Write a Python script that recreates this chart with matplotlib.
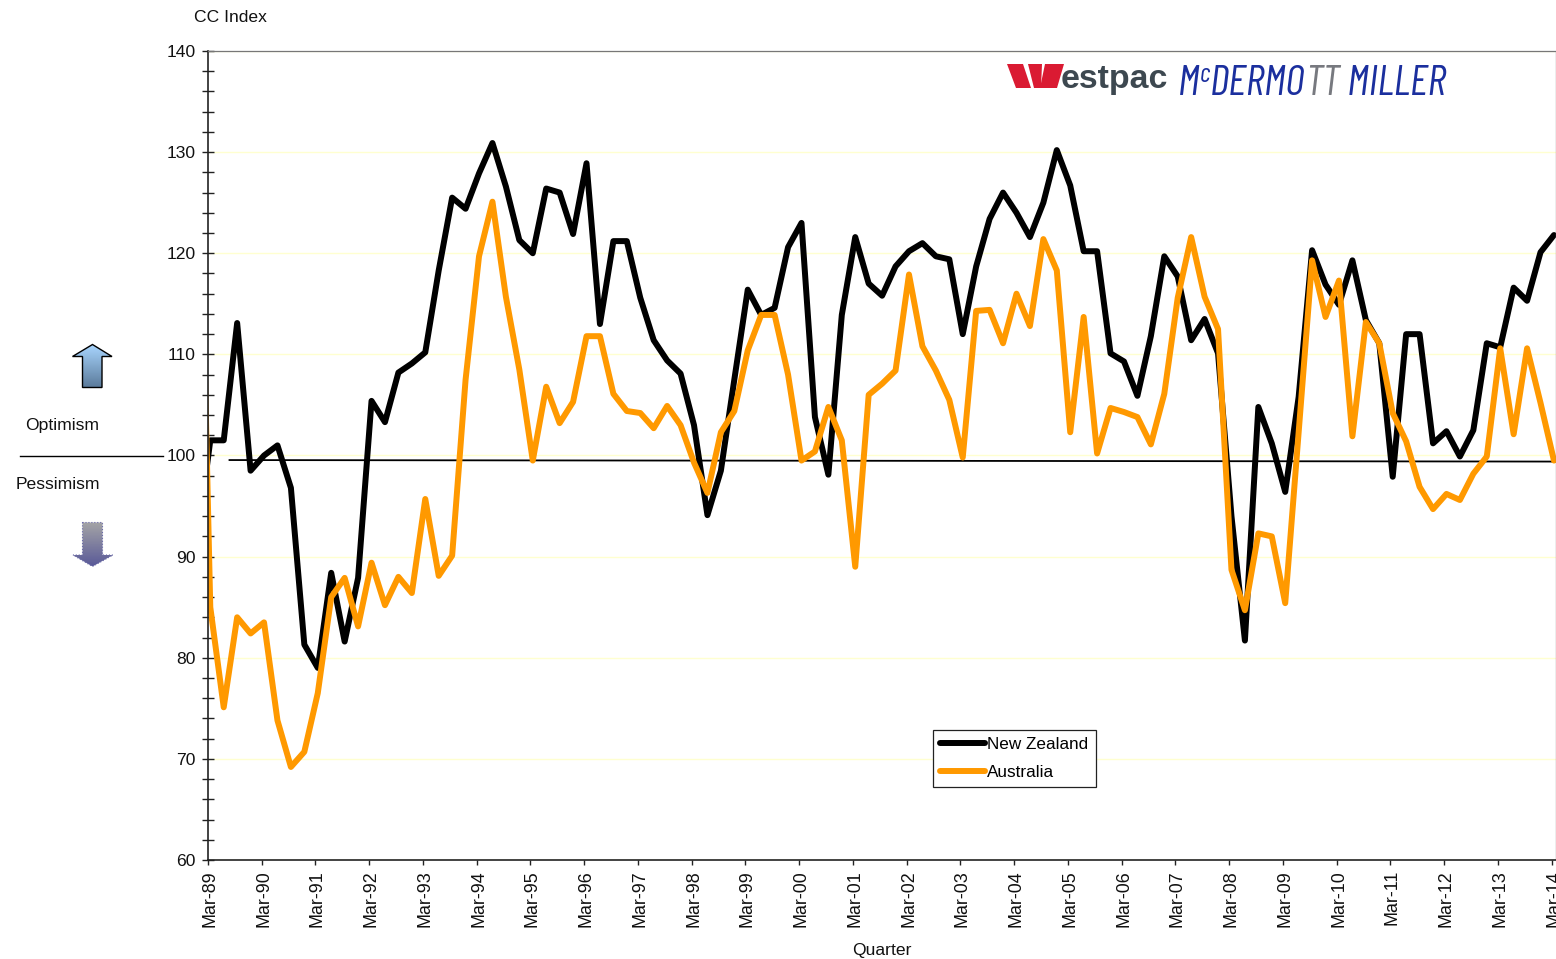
import numpy as np
import matplotlib
matplotlib.use("Agg")
import matplotlib.pyplot as plt
from matplotlib.colors import LinearSegmentedColormap
from matplotlib.patches import Polygon
from matplotlib import font_manager as fm
from matplotlib.ticker import MultipleLocator
from matplotlib.transforms import ScaledTranslation

# Quarterly index values; the first value of each series lies just left of the axis and is clipped.
new_zealand = [91.2, 101.5, 101.5, 113.1, 98.5, 100.0, 101.0, 96.8, 81.3, 79.0, 88.4, 81.6, 87.9, 105.4, 103.3, 108.2,
               109.1, 110.2, 118.3, 125.5, 124.4, 127.9, 130.9, 126.6, 121.3, 120.0, 126.4, 126.0, 121.9, 128.9, 113.0, 121.2,
               121.2, 115.6, 111.4, 109.4, 108.1, 103.0, 94.1, 98.5, 107.5, 116.4, 113.9, 114.6, 120.6, 123.0, 103.8, 98.1,
               113.9, 121.6, 117.0, 115.8, 118.7, 120.2, 121.0, 119.7, 119.4, 112.0, 118.7, 123.4, 126.0, 124.0, 121.6, 125.0,
               130.2, 126.7, 120.2, 120.2, 110.1, 109.3, 105.9, 111.8, 119.7, 117.7, 111.4, 113.5, 110.1, 94.0, 81.7, 104.8,
               101.2, 96.4, 105.8, 120.3, 116.9, 114.9, 119.3, 113.4, 111.1, 97.9, 112.0, 112.0, 101.2, 102.4, 99.9, 102.5,
               111.1, 110.7, 116.6, 115.3, 120.1, 121.8]
australia = [143.0, 85.0, 75.1, 84.0, 82.4, 83.5, 73.8, 69.2, 70.7, 76.5, 86.0, 87.9, 83.1, 89.4, 85.2, 88.0,
             86.4, 95.7, 88.1, 90.1, 107.5, 119.7, 125.1, 115.7, 108.5, 99.5, 106.8, 103.2, 105.3, 111.8, 111.8, 106.1,
             104.4, 104.2, 102.7, 104.9, 103.0, 99.3, 96.3, 102.3, 104.4, 110.4, 113.9, 113.9, 108.0, 99.5, 100.4, 104.8,
             101.5, 89.0, 106.0, 107.1, 108.4, 117.9, 110.8, 108.4, 105.5, 99.8, 114.3, 114.4, 111.1, 116.0, 112.8, 121.4,
             118.3, 102.3, 113.7, 100.2, 104.7, 104.3, 103.8, 101.1, 106.1, 115.6, 121.6, 115.7, 112.5, 88.7, 84.7, 92.3,
             92.0, 85.4, 102.3, 119.3, 113.7, 117.3, 101.9, 113.2, 111.1, 104.2, 101.4, 96.9, 94.7, 96.2, 95.6, 98.2,
             99.9, 110.6, 102.1, 110.6, 105.2, 99.5]
reference_level = [99.55, 99.4]
year_labels = ["Mar-%02d" % (y % 100) for y in range(1989, 2015)]

W, H = 1556, 959
BLACK, ORANGE, GRID = "#000000", "#FF9900", "#FFFFD0"
names = {f.name for f in fm.fontManager.ttflist}
plt.rcParams["font.family"] = ["Liberation Sans", "DejaVu Sans"]
NARROW = next((n for n in ("Barlow Condensed", "Fira Sans Extra Condensed", "Roboto Condensed", "Archivo Narrow",
                           "Liberation Sans") if n in names), "Liberation Sans")

fig = plt.figure(figsize=(W / 100, H / 100), dpi=100, facecolor="white")
L, R, T, B = 208, 1555.7, 51, 860
ax = fig.add_axes([L / W, 1 - B / H, (R - L) / W, (B - T) / H])

# Data sit a fraction of a quarter right of the tick marks, as in the reference.
shift = 0.17
x = np.arange(len(new_zealand)) - 1 + shift
ax.set_xlim(0, 100.3)
ax.set_ylim(60, 140)
ax.yaxis.set_major_locator(MultipleLocator(10))
ax.yaxis.set_minor_locator(MultipleLocator(2))
ax.set_xticks(np.arange(len(year_labels)) * 4)
ax.set_xticklabels(year_labels, rotation=90, ha="center", va="top", fontsize=12.9, color="#111111")
ax.tick_params(axis="y", which="both", direction="inout", length=8.3, width=1.0, color="#222222")
ax.tick_params(axis="y", which="major", labelsize=12.6, pad=4.9, labelcolor="#111111")
ax.tick_params(axis="x", direction="out", length=3.8, width=1.0, pad=3.4, color="#222222")
for lab in ax.get_xticklabels():
    lab.set_transform(lab.get_transform() + ScaledTranslation(2.0 / 100, 0, fig.dpi_scale_trans))
ax.grid(axis="y", which="major", color=GRID, lw=1.0, zorder=0)
ax.set_axisbelow(True)
for side in ("left", "bottom"):
    ax.spines[side].set_linewidth(1.2)
    ax.spines[side].set_color("#222222")
for side in ("top", "right"):
    ax.spines[side].set_linewidth(0.9)
    ax.spines[side].set_color("#777777")

ax.plot([1.6, 100.3], reference_level, color="black", lw=1.3, zorder=1.5)
style = dict(lw=4.3, solid_joinstyle="round", solid_capstyle="round", zorder=2)
ax.plot(x, new_zealand, color=BLACK, label="New Zealand", **style)
ax.plot(x, australia, color=ORANGE, label="Australia", **style)

leg = ax.legend(loc="upper left", bbox_to_anchor=((933 - L) / (R - L), (B - 730) / (B - T)),
                fontsize=12.3, frameon=True, fancybox=False, framealpha=1, edgecolor="#222222",
                borderaxespad=0, borderpad=0.42, handlelength=2.62, handletextpad=0.14, labelspacing=0.74)
leg.get_frame().set_linewidth(0.9)

# Overlay in pixel coordinates for the annotations around the plot.
ov = fig.add_axes([0, 0, 1, 1], zorder=5)
ov.set_axis_off()
ov.patch.set_alpha(0)
ov.set_xlim(0, W)
ov.set_ylim(H, 0)


def label(px, py, s, **kw):
    return ov.text(px, py, s, va="center", fontsize=12.6, color="#111111", **kw)


label(194, 17.5, "CC Index")
label(882, 950.5, "Quarter", ha="center")
label(25, 425.5, "Optimism")
label(16, 484.5, "Pessimism")
ov.plot([20, 163], [456, 456], color="black", lw=1.0)


def arrow(pts, top, bottom, edge, lw, ls="-"):
    pg = Polygon(pts, closed=True, facecolor="none", edgecolor=edge, lw=lw, ls=ls, zorder=3)
    ov.add_patch(pg)
    xs, ys = zip(*pts)
    cmap = LinearSegmentedColormap.from_list("g", [top, bottom])
    im = ov.imshow(np.linspace(0, 1, 64)[:, None], cmap=cmap, aspect="auto",
                   extent=(min(xs), max(xs), max(ys), min(ys)), zorder=2)
    im.set_clip_path(pg)


arrow([(92.5, 344.5), (112, 356.5), (102, 356.5), (102, 387.5), (82.5, 387.5), (82.5, 356.5), (72.5, 356.5)],
      "#A9D6FF", "#5C7C9C", "black", 1.0)
arrow([(82.5, 522.5), (102.5, 522.5), (102.5, 555), (113, 555), (92.5, 566.5), (73, 555), (82.5, 555)],
      "#A4A4A6", "#5A5A98", "#6A6AA8", 0.8, ":")
ov.set_xlim(0, W)
ov.set_ylim(H, 0)

# Logo, as real text next to a drawn W.
for poly in ([(1007, 64), (1023, 64), (1031, 88), (1016, 88)],
             [(1028, 64), (1042, 64), (1041, 88), (1034, 88)],
             [(1045, 64), (1064, 64), (1057, 88), (1040, 88)]):
    ov.add_patch(Polygon(poly, closed=True, facecolor="#DA1A32", edgecolor="none"))
ov.text(1061, 88, "estpac", fontsize=24.4, fontweight="bold", color="#3D4850", va="baseline", ha="left")

renderer = fig.canvas.get_renderer()
BLUE, GREY = "#1B2F9E", "#77797F"
parts = (("M", BLUE, 1.0, 95), ("c", BLUE, 0.62, 82), ("DERMO", BLUE, 1.0, 95), ("TT", GREY, 1.0, 95),
         (" MILLER", BLUE, 1.0, 95))


def layout(size, draw):
    cursor = 1178
    for txt, col, scale, base in parts:
        t = ov.text(cursor, base, txt, fontsize=size * scale, family=NARROW, style="italic", weight="normal",
                    color=col, va="baseline", ha="left")
        cursor += t.get_window_extent(renderer).width
        if not draw:
            t.remove()
    return cursor - 1178


size = 30.0
size *= 268 / layout(size, False)
layout(size, True)

fig.savefig("out.png", dpi=100)
